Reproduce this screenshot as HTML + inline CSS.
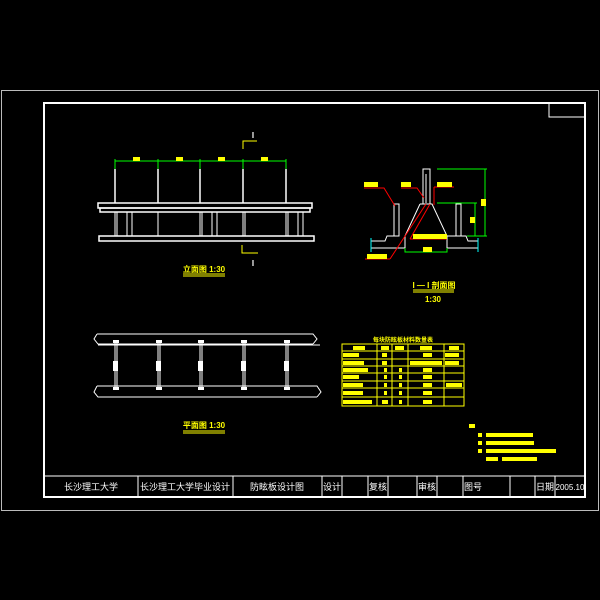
<!DOCTYPE html>
<html><head><meta charset="utf-8"><style>
html,body{margin:0;padding:0;background:#000;}
svg{display:block}
text{font-family:"Liberation Sans","Noto Sans CJK SC",sans-serif;}
</style></head><body>
<svg width="600" height="600" viewBox="0 0 600 600" xmlns="http://www.w3.org/2000/svg">
<rect width="600" height="600" fill="#000"/>
<rect x="1.5" y="90.5" width="597" height="420" fill="none" stroke="#bbb" stroke-width="1"/>
<rect x="44" y="103" width="541" height="394" fill="none" stroke="#fff" stroke-width="2"/>
<rect x="549" y="103" width="36" height="14" fill="none" stroke="#fff" stroke-width="1"/>
<!-- title block -->
<g stroke="#fff" stroke-width="1">
<line x1="44" y1="476" x2="585" y2="476"/>
<line x1="138" y1="476" x2="138" y2="497"/><line x1="233" y1="476" x2="233" y2="497"/>
<line x1="322" y1="476" x2="322" y2="497"/><line x1="342" y1="476" x2="342" y2="497"/>
<line x1="368" y1="476" x2="368" y2="497"/><line x1="388" y1="476" x2="388" y2="497"/>
<line x1="417" y1="476" x2="417" y2="497"/><line x1="437" y1="476" x2="437" y2="497"/>
<line x1="463" y1="476" x2="463" y2="497"/><line x1="510" y1="476" x2="510" y2="497"/>
<line x1="535" y1="476" x2="535" y2="497"/><line x1="555" y1="476" x2="555" y2="497"/>
</g>
<g fill="#fff" font-size="9" text-anchor="middle">
<text x="91" y="490">长沙理工大学</text><text x="185" y="490">长沙理工大学毕业设计</text>
<text x="277" y="490">防眩板设计图</text><text x="332" y="490">设计</text>
<text x="378" y="490">复核</text><text x="427" y="490">审核</text>
<text x="473" y="490">图号</text><text x="545" y="490">日期</text>
<text x="570" y="490" font-size="8">2005.10</text>
</g>
<!-- elevation -->
<g stroke="#0f0" stroke-width="1"><line x1="115" y1="161" x2="286" y2="161"/>
<line x1="115" y1="159" x2="115" y2="170"/><line x1="158" y1="159" x2="158" y2="170"/><line x1="200" y1="159" x2="200" y2="170"/><line x1="243" y1="159" x2="243" y2="170"/><line x1="286" y1="159" x2="286" y2="170"/></g>
<g fill="#ff0"><rect x="133" y="157" width="7" height="4"/><rect x="176" y="157" width="7" height="4"/><rect x="218" y="157" width="7" height="4"/><rect x="261" y="157" width="7" height="4"/></g>
<g stroke="#fff" stroke-width="1.5" fill="none">
<line x1="115" y1="169" x2="115" y2="203"/><line x1="158" y1="169" x2="158" y2="203"/><line x1="200" y1="169" x2="200" y2="203"/><line x1="243" y1="169" x2="243" y2="203"/><line x1="286" y1="169" x2="286" y2="203"/>
<rect x="98" y="203" width="214" height="5"/><rect x="100" y="208" width="210" height="4"/>
<rect x="99" y="236" width="215" height="5"/>
</g>
<g stroke="#fff" stroke-width="1">
<line x1="115" y1="212" x2="115" y2="236"/><line x1="117" y1="212" x2="117" y2="236"/><line x1="127" y1="212" x2="127" y2="236"/><line x1="132" y1="212" x2="132" y2="236"/>
<line x1="158" y1="212" x2="158" y2="236"/><line x1="200" y1="212" x2="200" y2="236"/><line x1="202" y1="212" x2="202" y2="236"/><line x1="212" y1="212" x2="212" y2="236"/><line x1="217" y1="212" x2="217" y2="236"/>
<line x1="243" y1="212" x2="243" y2="236"/><line x1="245" y1="212" x2="245" y2="236"/><line x1="286" y1="212" x2="286" y2="236"/><line x1="288" y1="212" x2="288" y2="236"/><line x1="298" y1="212" x2="298" y2="236"/><line x1="303" y1="212" x2="303" y2="236"/>
</g>
<g fill="#fff" font-size="8" font-weight="bold" text-anchor="middle"><text x="253" y="138">I</text><text x="253" y="266">I</text></g>
<polyline points="243,149 243,141 257,141" fill="none" stroke="#ff0"/>
<polyline points="242,245 242,253 258,253" fill="none" stroke="#ff0"/>
<text x="204" y="272" fill="#ff0" font-size="8" text-anchor="middle" font-weight="bold">立面图 1:30</text>
<line x1="183" y1="274" x2="225" y2="274" stroke="#ff0"/><line x1="183" y1="276" x2="225" y2="276" stroke="#ff0"/>
<!-- section -->
<g stroke="#fff" stroke-width="1" fill="none">
<rect x="423" y="169" width="7" height="35"/><line x1="426" y1="174" x2="426" y2="203"/>
<polyline points="420,204 432,204 447,236 447,250"/><polyline points="420,204 405,236 405,250"/>
<polyline points="395,236 387,236 385,241 371,241"/><polyline points="447,236 466,236 468,241 478,241"/>
<line x1="371" y1="248" x2="405" y2="248"/><line x1="447" y1="248" x2="478" y2="248"/>
<rect x="394" y="204" width="5" height="32"/><rect x="456" y="204" width="5" height="32"/>
</g>
<g stroke="#0ff"><line x1="371" y1="238" x2="371" y2="252"/><line x1="478" y1="238" x2="478" y2="252"/></g>
<g stroke="#0f0" fill="none"><line x1="437" y1="169" x2="487" y2="169"/><line x1="485" y1="169" x2="485" y2="236"/><line x1="437" y1="203" x2="477" y2="203"/><line x1="475" y1="203" x2="475" y2="236"/><line x1="467" y1="236" x2="487" y2="236"/><polyline points="405,248 405,252 447,252 447,248"/></g>
<g stroke="#f00" fill="none"><polyline points="364,188 384,188 395,206"/><polyline points="401,188 417,188 424,198"/><polyline points="434,187 454,187"/><line x1="434" y1="187" x2="434" y2="205"/><line x1="426" y1="204" x2="390" y2="259"/><line x1="430" y1="204" x2="410" y2="239"/><line x1="410" y1="239" x2="447" y2="239"/><line x1="365" y1="259" x2="390" y2="259"/></g>
<g fill="#ff0"><rect x="364" y="182" width="14" height="5"/><rect x="401" y="182" width="10" height="5"/><rect x="437" y="182" width="15" height="5"/><rect x="481" y="199" width="5" height="7"/><rect x="470" y="217" width="5" height="6"/><rect x="413" y="234" width="34" height="5"/><rect x="423" y="247" width="9" height="5"/><rect x="367" y="254" width="20" height="5"/></g>
<text x="434" y="288" fill="#ff0" font-size="8" text-anchor="middle" font-weight="bold">I — I 剖面图</text>
<line x1="413" y1="290" x2="454" y2="290" stroke="#ff0"/><line x1="413" y1="292" x2="454" y2="292" stroke="#ff0"/>
<text x="433" y="302" fill="#ff0" font-size="8" text-anchor="middle" font-weight="bold">1:30</text>
<!-- plan -->
<g stroke="#fff" stroke-width="1" fill="none">
<polyline points="97,334 313,334 317,339 313,344"/><polyline points="97,334 94,339 98,344 313,344"/><line x1="98" y1="345" x2="320" y2="345"/>
<polyline points="97,386 317,386 321,392 317,397"/><polyline points="97,386 94,392 98,397 317,397"/>
<line x1="115" y1="342" x2="115" y2="388"/><line x1="117" y1="342" x2="117" y2="388"/>
<line x1="158" y1="342" x2="158" y2="388"/><line x1="160" y1="342" x2="160" y2="388"/>
<line x1="200" y1="342" x2="200" y2="388"/><line x1="202" y1="342" x2="202" y2="388"/>
<line x1="243" y1="342" x2="243" y2="388"/><line x1="245" y1="342" x2="245" y2="388"/>
<line x1="286" y1="342" x2="286" y2="388"/><line x1="288" y1="342" x2="288" y2="388"/>
</g>
<g fill="#fff"><rect x="113" y="340" width="6" height="3"/><rect x="156" y="340" width="6" height="3"/><rect x="198" y="340" width="6" height="3"/><rect x="241" y="340" width="6" height="3"/><rect x="284" y="340" width="6" height="3"/>
<rect x="113" y="387" width="6" height="3"/><rect x="156" y="387" width="6" height="3"/><rect x="198" y="387" width="6" height="3"/><rect x="241" y="387" width="6" height="3"/><rect x="284" y="387" width="6" height="3"/>
<rect x="113" y="361" width="5" height="10"/><rect x="156" y="361" width="5" height="10"/><rect x="198" y="361" width="5" height="10"/><rect x="241" y="361" width="5" height="10"/><rect x="284" y="361" width="5" height="10"/></g>
<text x="204" y="428" fill="#ff0" font-size="8" text-anchor="middle" font-weight="bold">平面图 1:30</text>
<line x1="183" y1="431" x2="225" y2="431" stroke="#ff0"/><line x1="183" y1="433" x2="225" y2="433" stroke="#ff0"/>
<!-- table -->
<text x="403" y="342" fill="#ff0" font-size="6" text-anchor="middle" font-weight="bold">每块防眩板材料数量表</text>
<g stroke="#ff0" stroke-width="1" fill="none">
<rect x="342" y="344" width="122" height="62"/>
<line x1="342" y1="351" x2="464" y2="351"/><line x1="342" y1="359" x2="464" y2="359"/><line x1="342" y1="366" x2="464" y2="366"/><line x1="342" y1="373" x2="464" y2="373"/><line x1="342" y1="381" x2="464" y2="381"/><line x1="342" y1="388" x2="464" y2="388"/><line x1="342" y1="397" x2="464" y2="397"/>
<line x1="377" y1="344" x2="377" y2="406"/><line x1="392" y1="344" x2="392" y2="406"/><line x1="408" y1="344" x2="408" y2="406"/><line x1="444" y1="344" x2="444" y2="406"/>
</g>
<g fill="#ff0"><rect x="353" y="346" width="12" height="4"/><rect x="381" y="346" width="8" height="4"/><rect x="395" y="346" width="9" height="4"/><rect x="420" y="346" width="12" height="4"/><rect x="449" y="346" width="10" height="4"/>
<rect x="343" y="353" width="16" height="4"/><rect x="382" y="353" width="5" height="4"/><rect x="423" y="353" width="9" height="4"/><rect x="445" y="353" width="14" height="4"/>
<rect x="343" y="361" width="21" height="4"/><rect x="382" y="361" width="5" height="4"/><rect x="410" y="361" width="32" height="4"/><rect x="445" y="361" width="14" height="4"/>
<rect x="343" y="368" width="25" height="4"/><rect x="384" y="368" width="3" height="4"/><rect x="399" y="368" width="3" height="4"/><rect x="423" y="368" width="9" height="4"/>
<rect x="343" y="375" width="16" height="4"/><rect x="384" y="375" width="3" height="4"/><rect x="399" y="375" width="3" height="4"/><rect x="423" y="375" width="9" height="4"/>
<rect x="343" y="383" width="20" height="4"/><rect x="384" y="383" width="3" height="4"/><rect x="399" y="383" width="3" height="4"/><rect x="423" y="383" width="9" height="4"/><rect x="446" y="383" width="16" height="4"/>
<rect x="343" y="391" width="20" height="4"/><rect x="384" y="391" width="3" height="4"/><rect x="399" y="391" width="3" height="4"/><rect x="423" y="391" width="9" height="4"/>
<rect x="343" y="400" width="29" height="4"/><rect x="382" y="400" width="6" height="4"/><rect x="399" y="400" width="3" height="4"/><rect x="423" y="400" width="9" height="4"/></g>
<!-- notes -->
<g fill="#ff0"><rect x="469" y="424" width="6" height="4"/>
<rect x="478" y="433" width="4" height="4"/><rect x="486" y="433" width="47" height="4"/>
<rect x="478" y="441" width="4" height="4"/><rect x="486" y="441" width="48" height="4"/>
<rect x="478" y="449" width="4" height="4"/><rect x="486" y="449" width="70" height="4"/>
<rect x="486" y="457" width="12" height="4"/><rect x="502" y="457" width="35" height="4"/></g>
</svg>
</body></html>
